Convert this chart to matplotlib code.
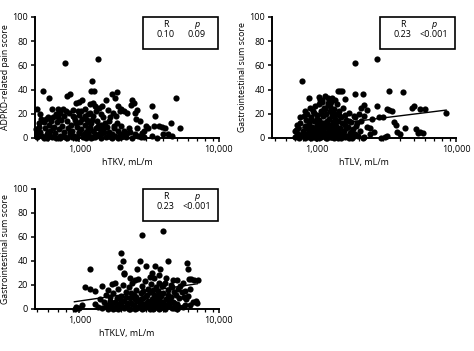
import numpy as np
import matplotlib.pyplot as plt
from matplotlib.ticker import FixedLocator, LogLocator, NullFormatter
from matplotlib.patches import Rectangle

plt.rcParams['font.family'] = ['Open Sans', 'DejaVu Sans']

# hTKV vs pain score
tkv = [790, 1360, 1230, 1210, 1280, 545, 610, 4900, 1870, 1700, 1800, 820, 860, 1050, 1000, 940, 1450, 1300, 1380, 1560,
       2400, 2450, 2350, 3300, 2100, 2000, 2200, 1900, 1950, 760, 700, 720, 640, 500, 520, 600, 580, 650, 800, 840,
       900, 980, 1020, 1100, 1150, 1200, 1260, 1320, 1420, 1480, 1600, 1650, 1750, 1820, 2500, 2550, 2600, 2700, 3500, 3700,
       3900, 4100, 4500, 4300, 4600, 3300, 3100, 2900, 2800, 2750, 2650, 2300, 2200, 2100, 2050, 2000, 1850, 1780, 1720, 1680,
       1620, 1580, 1520, 1460, 1400, 1350, 1330, 1290, 1250, 1220, 1190, 1170, 1140, 1120, 1090, 1060, 1030, 1010, 990, 960,
       930, 910, 890, 870, 850, 830, 810, 790, 770, 750, 730, 710, 690, 670, 660, 640, 620, 605, 590, 570,
       555, 540, 525, 510, 495, 490, 500, 515, 530, 560, 585, 615, 630, 680, 700, 740, 780, 820, 880, 920,
       950, 1000, 1040, 1080, 1110, 1160, 1210, 1240, 1300, 1370, 1430, 1490, 1550, 1640, 1700, 1760, 1800, 1880, 1960, 2150,
       2250, 2400, 2500, 2600, 2900, 3000, 3400, 3600, 4000, 720, 760, 860, 960, 1060, 1160, 1260, 1400, 1500, 1600, 1900,
       2000, 600, 650, 680, 900, 1000, 1100, 1200, 1250, 950, 1180, 1320, 1420, 5250]
pain = [62, 65, 47, 39, 39, 39, 33, 33, 38, 36, 33, 35, 36, 31, 30, 29, 26, 26, 25, 31,
        31, 29, 27, 26, 22, 24, 21, 26, 22, 24, 24, 21, 24, 24, 20, 17, 16, 17, 22, 21,
        23, 22, 22, 24, 20, 21, 18, 22, 20, 17, 23, 17, 21, 18, 21, 16, 23, 14, 18, 10,
        9, 8, 12, 3, 2, 2, 8, 6, 4, 1, 2, 5, 4, 6, 2, 10, 12, 8, 3, 1,
        5, 9, 12, 4, 7, 10, 14, 3, 6, 12, 9, 2, 15, 5, 11, 1, 7, 13, 4, 9,
        15, 2, 6, 11, 3, 8, 14, 1, 5, 10, 2, 7, 13, 4, 9, 1, 6, 11, 3, 8,
        13, 2, 5, 9, 1, 7, 4, 12, 16, 0, 0, 2, 14, 0, 17, 15, 18, 0, 1, 17,
        0, 5, 16, 3, 0, 7, 0, 15, 1, 3, 0, 9, 1, 14, 0, 10, 2, 0, 3, 1,
        8, 0, 3, 8, 1, 10, 10, 0, 3, 0, 2, 5, 1, 2, 4, 1, 2, 5, 2, 6,
        1, 5, 8, 20, 18, 19, 18, 28, 29, 12, 13, 8, 11, 8]

# hTLV vs GI score
tlv = [790, 1900, 2700, 880, 1420, 1480, 1520, 3300, 4200, 1900, 2150, 1150, 1200, 1300, 1600, 1050, 1100,
       2700, 3200, 3300, 3500, 4800, 5000, 5500, 6000, 8500, 2200, 2300, 2100, 2000, 1900, 1950, 2200, 2400, 2500, 2800,
       3000, 3600, 3700, 4300, 3800, 4000, 5200, 5300, 5500, 5800, 3100, 3200, 2200, 2900, 2600, 2400,
       700, 720, 740, 760, 780, 800, 810, 820, 830, 840, 850, 860, 870, 880, 890, 900, 910, 920, 930, 940,
       950, 960, 970, 980, 990, 1000, 1010, 1020, 1030, 1040, 1050, 1060, 1070, 1080, 1090, 1100, 1110, 1120, 1130, 1140,
       1150, 1160, 1170, 1180, 1190, 1200, 1210, 1220, 1230, 1240, 1250, 1260, 1270, 1280, 1290, 1300, 1310, 1320, 1330, 1340,
       1350, 1360, 1370, 1380, 1400, 1410, 1420, 1430, 1450, 1470, 1490, 1510, 1530, 1550, 1570, 1590, 1610, 1640, 1670, 1700,
       1730, 1760, 1800, 1830, 1860, 1880, 1920, 1980, 2050, 2100, 2150, 2300,
       750, 790, 850, 880, 920, 950, 980, 1000, 1020, 1050, 1080, 1100, 1130, 1160, 1200, 1230, 1260, 1300, 1340, 1380,
       1420, 1460, 1500, 1560, 1620, 1660, 1720, 1780, 1850, 1000, 960, 1150, 1250, 1060, 1200, 1350, 1100, 1300, 1450, 1600,
       1700, 890, 820, 760, 730, 700]
gi_tlv = [47, 62, 65, 33, 39, 39, 39, 39, 38, 36, 36, 35, 33, 33, 32, 34, 31,
          26, 24, 23, 22, 25, 26, 24, 24, 21, 27, 23, 25, 20, 17, 12, 18, 8, 16, 17,
          17, 13, 11, 8, 5, 3, 7, 4, 5, 4, 1, 2, 1, 0, 5, 3,
          1, 4, 8, 12, 2, 6, 18, 10, 0, 15, 3, 20, 7, 12, 1, 25, 5, 17, 9, 2,
          22, 14, 6, 26, 0, 11, 19, 3, 8, 28, 15, 5, 22, 1, 12, 30, 7, 18, 2, 25,
          10, 4, 20, 14, 0, 27, 8, 16, 3, 22, 11, 6, 30, 1, 18, 9, 13, 4, 24, 7,
          16, 2, 20, 10, 28, 5, 14, 0, 22, 8, 17, 3, 12, 25, 6, 19, 1, 15, 9, 21,
          4, 13, 0, 7, 18, 3, 10, 2, 6, 14, 0, 9,
          0, 3, 9, 5, 0, 4, 7, 2, 13, 0, 9, 4, 12, 0, 5, 9, 1, 3, 0, 4,
          6, 2, 0, 4, 8, 2, 0, 5, 2, 16, 21, 24, 26, 31, 29, 31, 20, 21, 19, 11,
          14, 14, 22, 17, 11, 6]
fit_tlv_x = [700, 8500]
fit_tlv_y = [7.5, 23]

# hTKLV vs GI score
tklv = [2800, 4000, 2000, 2050, 2700, 4300, 1200, 1950, 2100, 2100, 3500, 3800, 3000, 5900, 6000, 6100, 6600, 7100, 6300,
        1100, 1200, 1300, 1450, 1700, 1600, 1800, 2300, 2500, 2600, 3200, 3300, 3700, 4200, 4500, 5000, 5300, 5500, 4800,
        5600, 5800, 6500, 6800, 7000, 6200, 5700, 5200, 950, 1000, 1050, 930, 1300, 1350, 1400, 1500, 1550, 1600, 1650, 1700,
        1750, 1800, 1850, 1900, 1950, 2000, 2050, 2100, 2150, 2200, 2250, 2300, 2350, 2400, 2450, 2500, 2550, 2600, 2650, 2700,
        2750, 2800, 2850, 2900, 2950, 3000, 3050, 3100, 3150, 3200, 3250, 3300, 3350, 3400, 3450, 3500, 3550, 3600, 3650, 3700,
        3750, 3800, 3850, 3900, 3950, 4000, 4100, 4200, 4300, 4400, 4500, 4600, 4700, 4800, 4900, 5000, 5100, 5200, 5400, 5500,
        5700, 6000, 6200, 1600, 1700, 1800, 1900, 2000, 2100, 2200, 2300, 2400, 2500, 2600, 2700, 2800, 2900, 3000, 3100, 3200,
        3300, 3400, 3500, 3600, 3700, 3800, 3900, 4000, 4200, 4400, 4600, 4800, 5000, 1450, 1550, 1650, 1750, 1850, 1950, 2050,
        2150, 2250, 2350, 2450, 2550, 2650, 2750, 2850, 2950, 3050, 3150, 3250, 3350, 3450, 3550, 3650, 3750, 3850, 3950, 4100,
        4300, 4700]
gi_tklv = [62, 65, 47, 40, 40, 40, 33, 35, 30, 29, 36, 33, 36, 38, 33, 25, 24, 24, 25,
           18, 17, 15, 19, 21, 16, 22, 26, 24, 33, 27, 30, 28, 26, 20, 24, 19, 22, 14,
           10, 8, 6, 7, 5, 3, 3, 2, 2, 1, 3, 0, 4, 2, 8, 6, 12, 3, 10, 5,
           13, 1, 9, 17, 4, 11, 20, 7, 14, 2, 18, 9, 5, 22, 12, 0, 16, 7, 25, 3,
           13, 19, 9, 1, 23, 11, 5, 17, 2, 14, 21, 8, 0, 12, 26, 6, 18, 3, 15, 9,
           22, 1, 11, 19, 5, 13, 0, 8, 16, 3, 10, 18, 6, 1, 12, 4, 17, 9, 14, 2,
           15, 11, 17, 0, 2, 6, 0, 3, 1, 5, 0, 4, 8, 1, 6, 0, 4, 2, 7, 0,
           4, 1, 3, 7, 0, 5, 2, 6, 3, 7, 1, 5, 0, 1, 3, 7, 0, 4, 8, 2,
           10, 0, 13, 3, 10, 2, 8, 15, 4, 12, 6, 3, 16, 7, 10, 4, 13, 6, 20, 22,
           12, 24]
fit_tklv_x = [920, 7000]
fit_tklv_y = [6, 21]

fig = plt.figure(figsize=(4.74, 3.51), dpi=100)

def panel(rect, x, y, xlabel, ylabel, r, p, fitx=None, fity=None):
    ax = fig.add_axes(rect)
    ax.scatter(x, y, s=20, color='black', linewidths=0, clip_on=False, zorder=3)
    if fitx is not None:
        ax.plot(fitx, fity, color='black', lw=1.0, zorder=4)
    ax.set_xscale('log')
    ax.set_xlim(480, 10000)
    ax.set_ylim(0, 100)
    ax.set_yticks([0, 20, 40, 60, 80, 100])
    ax.xaxis.set_major_locator(FixedLocator([1000, 10000]))
    ax.xaxis.set_minor_locator(LogLocator(base=10, subs=np.arange(2, 10)))
    ax.xaxis.set_minor_formatter(NullFormatter())
    ax.set_xticklabels(['1,000', '10,000'])
    for s in ['top', 'right']:
        ax.spines[s].set_visible(False)
    for s in ['left', 'bottom']:
        ax.spines[s].set_linewidth(1.4)
    ax.tick_params(axis='both', which='major', labelsize=6.5, width=1.1, length=3, pad=2)
    ax.tick_params(axis='x', which='minor', width=0.9, length=2)
    ax.set_xlabel(xlabel, fontsize=6.5, labelpad=3)
    ax.set_ylabel(ylabel, fontsize=6.3, labelpad=1.5)
    ax.add_patch(Rectangle((0.587, 0.735), 0.408, 0.265, transform=ax.transAxes,
                           fill=False, lw=1.2, edgecolor='black', clip_on=False))
    ax.text(0.71, 0.935, 'R', transform=ax.transAxes, fontsize=6.5, ha='center', va='center')
    ax.text(0.88, 0.935, 'p', transform=ax.transAxes, fontsize=6.5, ha='center', va='center', style='italic')
    ax.text(0.71, 0.855, r, transform=ax.transAxes, fontsize=6.5, ha='center', va='center')
    ax.text(0.88, 0.855, p, transform=ax.transAxes, fontsize=6.5, ha='center', va='center')
    return ax

panel([0.0738, 0.607, 0.388, 0.345], tkv, pain, 'hTKV, mL/m', 'ADPKD-related pain score', '0.10', '0.09')
panel([0.574, 0.607, 0.388, 0.345], tlv, gi_tlv, 'hTLV, mL/m', 'Gastrointestinal sum score', '0.23', '<0.001',
      fit_tlv_x, fit_tlv_y)
panel([0.0738, 0.1197, 0.388, 0.342], tklv, gi_tklv, 'hTKLV, mL/m', 'Gastrointestinal sum score', '0.23', '<0.001',
      fit_tklv_x, fit_tklv_y)

plt.savefig('out.png', dpi=100)
